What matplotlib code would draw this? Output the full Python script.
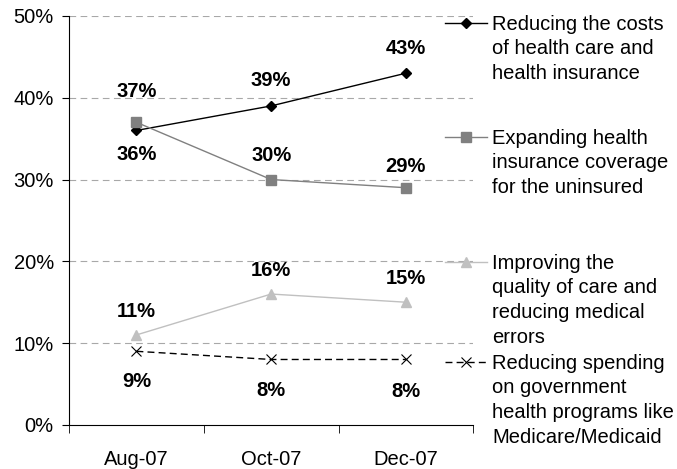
import matplotlib
matplotlib.use('Agg')
import matplotlib.pyplot as plt
from matplotlib.lines import Line2D

plt.rcParams['font.family'] = ['Liberation Sans', 'DejaVu Sans']

# data
months = ['Aug-07', 'Oct-07', 'Dec-07']
costs = [36, 39, 43]
coverage = [37, 30, 29]
quality = [11, 16, 15]
spending = [9, 8, 8]
labels = ['Reducing the costs\nof health care and\nhealth insurance',
          'Expanding health\ninsurance coverage\nfor the uninsured',
          'Improving the\nquality of care and\nreducing medical\nerrors',
          'Reducing spending\non government\nhealth programs like\nMedicare/Medicaid']

series = [costs, coverage, quality, spending]
styles = [
    dict(color='black', marker='D', markersize=5, linestyle='-', mfc='black', mec='black'),
    dict(color='#808080', marker='s', markersize=7, linestyle='-', mfc='#808080', mec='#808080'),
    dict(color='#C0C0C0', marker='^', markersize=7, linestyle='-', mfc='#C0C0C0', mec='#C0C0C0'),
    dict(color='black', marker='x', markersize=7, linestyle=(0, (5, 3)), mew=0.8),
]
# label offsets in points (positive = above)
offsets = [[-17, 18, 18],
           [22, 17, 15],
           [17, 17, 17],
           [-22, -22, -23]]

fig = plt.figure(figsize=(6.77, 4.69), dpi=100)
ax = fig.add_axes([0.102, 0.094, 0.597, 0.872])

x = range(len(months))
for vals, st, offs in zip(series, styles, offsets):
    ax.plot(x, vals, linewidth=1, **st)
    for xi, v, o in zip(x, vals, offs):
        ax.annotate(f'{v}%', (xi, v), xytext=(0, o), textcoords='offset points',
                    ha='center', va='center', fontsize=14.5, fontweight='bold')

ax.set_xlim(-0.5, 2.5)
ax.set_ylim(0, 50)
ax.set_yticks(range(0, 51, 10))
ax.set_yticklabels([f'{t}%' for t in range(0, 51, 10)], fontsize=14.5)
ax.set_xticks(list(x))
ax.set_xticklabels(months, fontsize=14.5)
ax.tick_params(axis='x', length=0, pad=18)
ax.set_xticks([-0.5, 0.5, 1.5, 2.5], minor=True)
ax.tick_params(axis='x', which='minor', length=6, direction='out')
ax.tick_params(axis='y', length=5, direction='out', pad=6)
for yv in range(10, 51, 10):
    ax.axhline(yv, color='#A8A8A8', linestyle=(0, (6, 4)), linewidth=0.8, zorder=0)
ax.spines['top'].set_visible(False)
ax.spines['right'].set_visible(False)

# legend on the right, drawn by hand
leg_y = [0.951, 0.708, 0.441, 0.228]
for lab, st, ly in zip(labels, styles, leg_y):
    fig.add_artist(Line2D([0.657, 0.719], [ly, ly], transform=fig.transFigure,
                          linewidth=1, **{k: v for k, v in st.items() if k != 'marker'}))
    fig.add_artist(Line2D([0.688], [ly], transform=fig.transFigure, linestyle='none',
                          **{k: v for k, v in st.items() if k != 'linestyle'}))
    fig.text(0.727, ly + 0.018, lab, fontsize=14.5, va='top', ha='left', linespacing=1.38,
             transform=fig.transFigure)

fig.savefig('out.png', dpi=100)
